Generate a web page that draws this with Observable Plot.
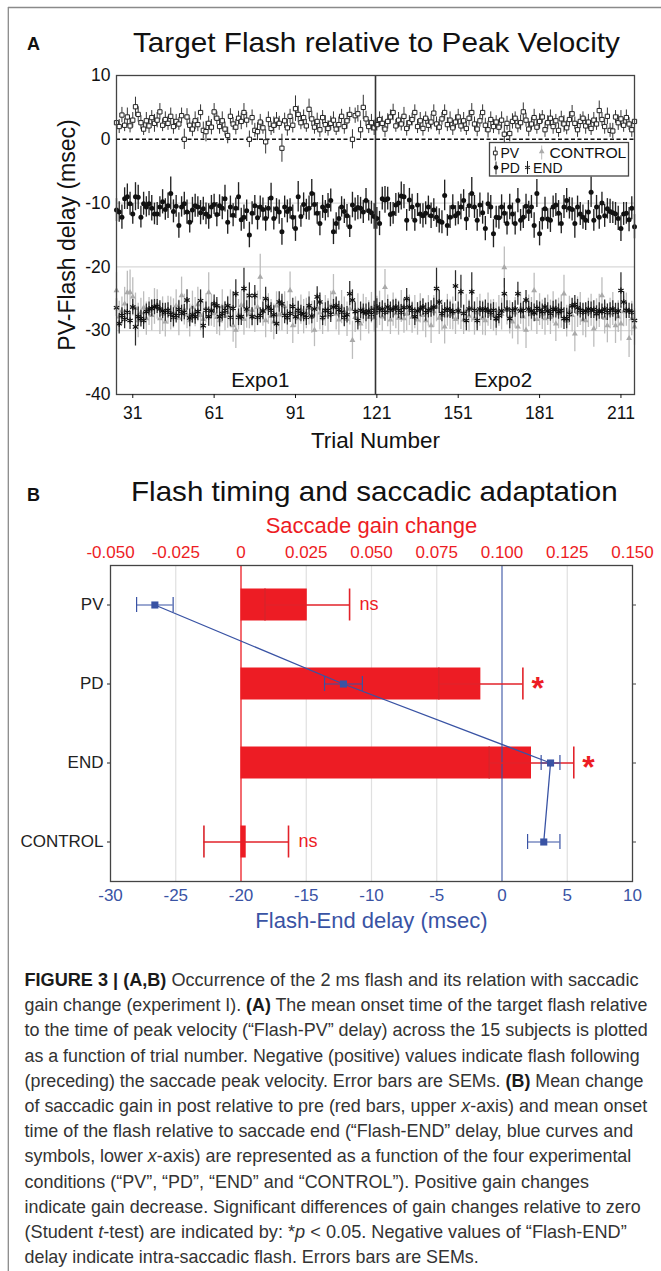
<!DOCTYPE html>
<html><head><meta charset="utf-8">
<script src="https://cdn.jsdelivr.net/npm/d3@7"></script>
<script src="https://cdn.jsdelivr.net/npm/@observablehq/plot@0.6"></script>
<style>
html,body{margin:0;padding:0;background:#fff;overflow:hidden;}
#page{position:relative;width:661px;height:1271px;background:#fff;font-family:"Liberation Sans",Arial,Helvetica,sans-serif;}
#plotA{position:absolute;left:0;top:60px;}
#plotB{position:absolute;left:0;top:505px;}
#overlay{position:absolute;left:0;top:0;pointer-events:none;}
</style></head>
<body><div id="page"><div id="plotA"></div><div id="plotB"></div><svg id="overlay" width="661" height="1271"></svg></div>
<script>
// ---------------- Panel A data (trials 25..216) ----------------
const firstTrial = 25;
const pvMean = [
2.6,2.0,3.8,2.2,3.5,2.1,3.0,5.1,3.9,2.6,
1.6,2.9,2.1,3.4,2.5,3.0,4.3,2.2,3.1,2.5,
3.6,2.0,2.8,2.4,3.7,0.0,3.5,2.2,1.6,2.9,
2.3,4.2,1.4,1.2,2.5,1.9,4.3,3.3,2.0,2.9,
1.6,0.6,3.6,2.4,1.9,3.3,2.8,4.2,3.0,0.0,
3.4,1.4,1.2,2.7,1.8,-0.4,3.1,1.7,2.2,3.0,
2.5,-1.4,2.9,1.8,3.6,2.2,4.8,3.9,2.6,3.4,
2.1,4.7,3.2,1.9,2.8,1.5,3.4,2.3,1.7,2.5,
3.0,1.6,2.3,3.6,2.0,2.9,3.9,0.0,3.7,4.0,
1.5,5.0,3.2,2.0,2.6,1.8,2.3,3.1,2.5,1.6,
2.8,3.5,4.2,2.1,3.0,2.4,3.6,1.7,2.6,3.1,
4.2,2.0,2.9,1.7,3.3,2.2,2.7,4.1,2.4,1.9,
3.2,4.2,2.3,3.0,1.8,2.7,3.5,2.1,2.9,1.7,
3.3,4.2,2.4,1.6,2.9,4.2,2.2,1.5,3.1,2.0,
2.7,1.9,3.0,0.8,2.5,0.9,2.8,3.3,2.1,2.6,
4.3,3.0,1.6,2.4,3.4,1.9,2.8,3.5,1.5,2.6,
3.3,2.0,2.9,1.4,3.2,2.4,1.8,3.1,4.0,2.5,
1.5,2.8,3.3,2.1,2.7,1.7,3.0,2.4,4.5,3.1,
2.0,3.6,1.4,1.3,3.5,2.6,3.2,2.2,3.4,2.4,
1.5,2.8];
const pvSem = [
1.3,1.1,1.2,1.0,1.4,1.1,1.2,1.5,1.2,1.1,
1.0,1.3,1.2,1.1,1.4,1.2,1.3,1.0,1.2,1.1,
1.3,1.2,1.1,1.0,1.2,1.6,1.3,1.1,1.2,1.4,
1.1,1.2,1.3,1.6,1.1,1.2,1.3,1.0,1.2,1.4,
1.1,1.3,1.2,1.0,1.2,1.1,1.3,1.4,1.2,1.3,
1.2,1.1,1.4,1.2,1.0,1.9,1.2,1.1,1.3,1.2,
1.1,2.2,1.2,1.3,1.1,1.2,2.0,1.3,1.1,1.2,
1.0,1.6,1.2,1.1,1.3,1.2,1.1,1.4,1.2,1.1,
1.3,1.0,1.2,1.1,1.2,1.3,1.1,1.5,1.2,1.3,
1.4,1.9,1.2,1.1,1.3,1.2,1.0,1.2,1.1,1.3,
1.2,1.1,1.3,1.0,1.2,1.1,1.4,1.2,1.1,1.0,
1.2,1.1,1.3,1.2,1.0,1.1,1.2,1.3,1.1,1.2,
1.0,1.2,1.1,1.3,1.2,1.1,1.2,1.0,1.3,1.1,
1.2,1.4,1.1,1.2,1.0,1.2,1.1,1.3,1.2,1.1,
1.0,1.2,1.3,1.4,1.1,1.3,1.2,1.0,1.1,1.2,
1.4,1.1,1.2,1.0,1.3,1.1,1.2,1.0,1.2,1.1,
1.3,1.2,1.0,1.1,1.2,1.3,1.1,1.2,1.3,1.0,
1.2,1.1,1.0,1.3,1.2,1.1,1.2,1.0,1.5,1.1,
1.2,1.3,1.1,1.2,1.0,1.2,1.3,1.1,1.2,1.0,
1.2,1.1];
const pdMean = [
-11.1,-11.4,-12.2,-9.3,-9.0,-10.1,-11.7,-9.0,-9.1,-12.2,
-10.1,-10.6,-10.1,-10.8,-11.7,-11.7,-10.6,-9.8,-11.0,-10.4,
-8.5,-11.3,-10.5,-13.5,-10.6,-10.1,-11.4,-13.0,-11.1,-10.4,
-10.6,-11.5,-10.9,-11.7,-12.1,-10.6,-10.2,-11.8,-10.4,-10.8,
-9.3,-13.0,-10.6,-11.9,-10.8,-9.0,-12.6,-12.2,-11.2,-15.0,
-11.6,-10.4,-12.3,-10.6,-11.0,-12.4,-10.8,-9.2,-12.4,-10.9,
-11.4,-14.5,-10.6,-11.3,-10.9,-12.2,-14.0,-9.0,-12.1,-10.2,
-11.0,-10.8,-8.5,-10.2,-11.6,-13.2,-10.6,-11.2,-10.4,-9.6,
-14.5,-13.2,-12.4,-10.6,-11.3,-12.0,-13.7,-10.3,-11.0,-10.7,
-10.8,-11.4,-9.6,-11.2,-11.5,-12.1,-12.4,-13.2,-9.3,-9.5,
-9.3,-11.8,-11.6,-10.3,-10.0,-8.9,-9.0,-12.7,-9.5,-10.6,
-12.7,-10.3,-11.7,-12.0,-11.6,-10.6,-12.0,-11.1,-12.2,-12.8,
-13.0,-8.8,-13.5,-12.2,-10.6,-12.0,-11.6,-10.6,-9.6,-12.5,
-10.4,-8.5,-10.6,-12.7,-10.3,-11.5,-14.0,-10.1,-10.6,-14.8,
-12.2,-12.3,-10.6,-11.6,-13.2,-10.6,-11.7,-13.2,-9.6,-12.7,
-12.2,-10.5,-11.3,-10.6,-13.5,-8.5,-14.8,-12.5,-10.9,-12.5,
-12.7,-10.6,-10.3,-11.6,-13.2,-10.6,-9.6,-10.8,-11.0,-13.2,
-10.6,-11.7,-12.2,-12.7,-11.4,-8.3,-12.7,-10.6,-12.2,-10.0,
-12.0,-10.9,-11.3,-11.5,-11.7,-12.4,-14.0,-11.7,-11.6,-12.6,
-10.8,-13.7];
const pdSem = [
1.8,1.6,1.9,1.7,2.0,1.8,1.6,2.2,1.9,1.7,
1.8,1.6,1.9,2.0,1.7,1.8,1.6,1.9,1.7,2.0,
2.6,1.8,1.7,2.0,1.6,1.8,1.9,1.7,2.0,1.8,
1.6,1.9,1.8,1.7,2.0,1.8,1.6,1.9,1.7,1.8,
2.1,1.9,1.7,1.8,1.6,2.2,1.8,1.9,1.7,2.0,
1.8,1.6,1.9,1.7,1.8,2.0,1.7,2.3,1.8,1.6,
1.9,2.1,1.7,1.8,1.6,1.9,2.0,2.4,1.7,1.8,
1.6,1.9,2.2,1.8,1.7,1.9,1.8,1.6,1.9,1.8,
2.0,1.7,1.8,1.6,1.9,1.8,1.7,2.0,1.8,1.9,
1.7,1.8,1.9,1.6,1.8,2.0,1.7,1.9,1.8,2.1,
1.8,1.9,1.7,1.8,1.6,2.2,1.9,1.7,1.8,2.0,
1.7,1.8,1.6,1.9,1.8,1.7,2.0,1.8,1.6,1.9,
1.8,2.4,1.7,1.8,1.9,1.6,1.8,2.0,1.7,1.8,
1.9,2.5,1.8,1.7,1.9,1.8,1.9,1.7,1.8,2.2,
1.7,1.8,1.9,1.6,1.8,2.0,1.7,1.8,1.9,1.7,
1.8,1.9,1.6,1.8,2.0,2.2,1.9,1.7,1.8,1.6,
1.9,1.7,1.8,2.0,1.6,1.8,1.9,1.7,1.8,2.3,
1.7,1.8,1.9,1.6,1.8,2.4,1.7,1.8,1.9,1.7,
1.8,1.6,1.9,1.7,1.8,1.9,2.0,1.8,1.7,1.9,
1.8,1.9];
const endMean = [
-26.4,-28.9,-27.6,-28.2,-27.1,-28.4,-26.3,-29.4,-27.8,-28.1,
-28.4,-27.0,-26.6,-26.5,-26.3,-26.2,-26.6,-26.9,-27.1,-26.8,
-27.4,-27.9,-27.6,-26.7,-27.3,-27.1,-25.2,-28.0,-27.5,-27.8,
-27.0,-25.3,-29.2,-26.8,-27.8,-26.9,-25.8,-26.1,-27.8,-27.3,
-26.8,-26.1,-27.9,-26.5,-24.2,-27.9,-27.8,-23.4,-26.6,-24.5,
-27.8,-24.5,-27.9,-27.6,-26.9,-25.0,-26.3,-26.8,-27.5,-28.9,
-25.5,-25.8,-27.6,-27.9,-27.3,-26.2,-27.8,-26.8,-27.3,-27.4,
-27.9,-26.1,-27.7,-26.6,-24.7,-25.5,-27.9,-26.8,-26.8,-27.4,
-26.3,-26.1,-26.7,-27.1,-27.9,-27.5,-24.2,-25.2,-27.0,-28.4,
-26.8,-27.0,-27.2,-26.9,-27.4,-26.8,-26.3,-26.8,-26.6,-27.1,
-26.3,-26.8,-26.6,-26.3,-26.8,-27.1,-26.4,-25.0,-26.3,-26.8,
-27.8,-26.9,-26.6,-26.3,-27.1,-26.8,-26.6,-26.3,-23.4,-25.5,
-27.3,-26.8,-26.6,-26.8,-27.0,-23.0,-26.9,-23.9,-27.3,-28.4,
-26.6,-23.9,-26.8,-28.4,-26.6,-26.8,-26.6,-26.9,-27.1,-26.8,
-28.1,-27.6,-26.9,-24.2,-26.6,-28.1,-26.8,-26.6,-24.2,-26.9,
-26.8,-25.2,-26.6,-26.9,-27.2,-26.5,-26.8,-27.0,-26.3,-26.9,
-27.3,-26.7,-26.6,-27.0,-26.8,-28.1,-28.1,-27.4,-26.1,-25.9,
-26.4,-26.8,-27.1,-26.9,-26.6,-26.8,-26.7,-27.3,-26.9,-27.0,
-26.6,-27.1,-26.8,-26.6,-27.1,-26.9,-23.7,-25.5,-26.8,-26.9,
-27.1,-28.4];
const endSem = [
1.4,1.6,1.2,1.5,1.3,1.4,1.2,3.0,1.5,1.3,
1.4,1.2,1.1,1.3,1.2,1.1,1.3,1.2,1.4,1.2,
1.3,1.5,1.2,1.4,1.3,1.2,1.6,1.4,1.3,1.2,
1.4,1.7,2.0,1.3,1.5,1.2,1.4,1.3,1.6,1.2,
1.3,1.4,1.5,2.6,2.2,1.3,1.4,3.2,1.3,2.0,
1.4,1.6,1.3,1.2,1.4,1.8,1.3,1.2,1.4,1.7,
1.6,1.5,1.3,1.2,1.4,1.3,1.2,1.4,1.3,1.2,
1.3,1.4,1.2,1.3,1.6,1.4,1.3,1.2,1.4,1.3,
1.2,1.4,1.3,1.2,1.5,1.3,1.9,1.6,1.4,1.5,
1.3,1.2,1.4,1.3,1.2,1.4,1.3,1.2,1.3,1.4,
1.2,1.3,1.4,1.2,1.3,1.2,1.4,1.6,1.3,1.2,
1.4,1.3,1.2,1.3,1.4,1.2,1.3,1.4,3.2,1.8,
1.3,1.2,1.4,1.3,1.2,2.4,1.4,2.6,1.3,1.6,
1.2,3.0,1.3,1.6,1.2,1.3,1.4,1.2,1.3,1.2,
1.5,1.3,1.2,2.4,1.3,1.6,1.2,1.3,1.8,1.2,
1.3,1.5,1.2,1.3,1.4,1.2,1.3,1.2,1.4,1.3,
1.2,1.3,1.4,1.2,1.3,1.7,1.6,1.3,1.2,1.4,
1.3,1.2,1.4,1.3,1.2,1.3,1.4,1.2,1.3,1.2,
1.4,1.3,1.2,1.3,1.4,1.2,2.8,1.6,1.3,1.2,
1.3,1.5];
const ctlMean = [
-23.7,-27.8,-26.9,-25.8,-24.0,-24.0,-24.7,-26.5,-28.4,-27.2,
-26.4,-28.1,-27.0,-27.6,-26.2,-25.9,-28.1,-27.4,-28.6,-26.8,
-27.3,-27.3,-26.1,-28.0,-24.5,-26.7,-27.5,-28.4,-26.3,-27.1,
-25.9,-27.6,-28.2,-26.5,-24.0,-26.8,-27.3,-27.9,-28.4,-26.2,
-27.7,-27.1,-26.4,-29.2,-29.9,-27.5,-26.0,-28.2,-26.9,-27.4,
-26.8,-27.9,-26.3,-21.6,-27.0,-28.4,-26.6,-27.7,-28.6,-26.1,
-27.5,-27.3,-26.2,-28.0,-23.7,-29.2,-27.1,-28.1,-26.7,-27.8,
-27.3,-26.5,-27.9,-29.9,-26.4,-27.2,-28.1,-26.9,-27.6,-26.1,
-24.0,-27.4,-28.3,-26.3,-27.0,-28.2,-26.6,-31.5,-27.9,-26.8,
-28.9,-26.6,-27.3,-27.9,-26.4,-28.0,-27.1,-26.5,-27.8,-23.2,
-26.9,-28.3,-26.7,-27.3,-28.0,-26.2,-28.1,-27.4,-26.8,-27.9,
-27.1,-28.3,-26.5,-27.6,-28.4,-26.9,-29.2,-27.0,-26.3,-28.0,
-27.6,-29.4,-26.8,-27.5,-27.3,-28.2,-26.6,-27.1,-28.3,-26.9,
-27.7,-26.4,-28.1,-27.2,-26.8,-28.0,-28.4,-26.7,-27.5,-27.6,
-28.2,-26.9,-27.4,-20.1,-26.8,-27.9,-28.6,-27.2,-29.4,-26.5,
-27.8,-29.9,-26.9,-27.4,-23.7,-28.2,-26.7,-27.5,-28.1,-26.8,
-27.9,-26.4,-28.9,-27.3,-27.0,-24.2,-28.5,-26.9,-27.6,-30.5,
-27.1,-26.6,-28.3,-28.4,-27.2,-26.8,-29.7,-27.4,-26.9,-24.5,
-28.0,-29.2,-27.3,-26.6,-29.2,-27.8,-28.9,-27.0,-26.7,-31.2,
-28.1,-29.4];
const ctlSem = [
2.8,2.4,2.2,2.6,3.3,3.5,3.0,2.4,2.7,2.3,
2.5,2.6,2.2,2.4,2.8,2.3,2.5,2.7,2.4,2.2,
2.6,2.3,2.5,2.8,2.9,2.4,2.2,2.6,2.5,2.3,
2.7,2.4,2.6,2.3,3.1,2.5,2.2,2.7,2.4,2.6,
2.3,2.5,2.8,2.6,2.9,2.4,2.2,2.5,2.7,2.3,
2.6,2.4,2.5,3.6,2.3,2.7,2.4,2.6,2.8,2.2,
2.5,2.7,2.3,2.6,2.9,2.8,2.4,2.5,2.3,2.7,
2.4,2.6,2.5,2.6,2.3,2.7,2.5,2.4,2.6,2.3,
2.8,2.5,2.4,2.6,2.3,2.7,2.5,3.0,2.4,2.6,
2.7,2.3,2.5,2.6,2.4,2.2,2.5,2.7,2.3,2.8,
2.5,2.3,2.6,2.4,2.7,2.5,2.3,2.6,2.4,2.5,
2.6,2.4,2.3,2.5,2.7,2.4,2.8,2.5,2.3,2.6,
2.4,2.7,2.5,2.3,2.6,2.4,2.5,2.7,2.3,2.6,
2.5,2.3,2.6,2.4,2.5,2.7,2.4,2.6,2.3,2.5,
2.6,2.4,2.5,3.2,2.3,2.6,2.7,2.4,2.8,2.5,
2.3,2.9,2.5,2.6,2.7,2.4,2.5,2.3,2.6,2.4,
2.7,2.5,2.8,2.4,2.6,2.9,2.5,2.3,2.6,2.8,
2.4,2.6,2.5,2.7,2.3,2.5,2.9,2.4,2.6,2.8,
2.5,2.7,2.4,2.6,2.8,2.5,2.7,2.4,2.6,3.0,
2.7,2.9];
const xTicksA = [31, 61, 91, 121, 151, 181, 211];
const yTicksA = [-40, -30, -20, -10, 0, 10];
const gridA = [-10, -20, -30];
const expoNames = ["Expo1", "Expo2"];
const expoCenters = [78, 167.5];
const expoBoundary = 120.5;

// ---------------- Panel B data ----------------
const conds = ["PV", "PD", "END", "CONTROL"];
const gainMean = [0.0254, 0.0919, 0.1113, 0.002];
const gainSem = [0.0162, 0.0161, 0.0162, 0.0162];
const delayMean = [-26.6, -12.15, 3.72, 3.2];
const delaySem = [1.4, 1.45, 0.72, 1.24];
const signif = ["ns", "*", "*", "ns"];
const delayTicks = [-30, -25, -20, -15, -10, -5, 0, 5, 10];
const gainTicks = [-0.05, -0.025, 0, 0.025, 0.05, 0.075, 0.1, 0.125, 0.15];
const gridB = [-25, -15, -10, -5, 5];

// ---------------- helpers ----------------
const FONT = '"Liberation Sans", Arial, Helvetica, sans-serif';
const RED = "#ed1c24", BLUE = "#3953a4";
const trials = d3.range(firstTrial, firstTrial + pvMean.length);
const rows = (m, s) => trials.map((t, i) => ({t, m: m[i], lo: m[i] - s[i], hi: m[i] + s[i]}));
const rV = rows(pvMean, pvSem), rD = rows(pdMean, pdSem), rE = rows(endMean, endSem), rC = rows(ctlMean, ctlSem);
const g2d = g => g * 200 - 20; // gain axis (top) aligned with delay axis (bottom)
const fmtGain = d => { const g = (d + 20) / 200; return Math.abs(g) < 1e-9 ? "0" : g.toFixed(3); };

// ---------------- Plot A ----------------
const plotA = Plot.plot({
  width: 661, height: 400,
  marginTop: 15, marginBottom: 66, marginLeft: 116, marginRight: 27,
  style: {fontFamily: FONT, fontSize: "17.5px", color: "#111", background: "transparent"},
  x: {domain: [25, 216]},
  y: {domain: [-40, 10]},
  marks: [
    Plot.ruleY(gridA, {stroke: "#d8d8d8", strokeWidth: 1.2}),
    Plot.ruleY([0], {stroke: "#111", strokeWidth: 1.4, strokeDasharray: "4,2.5"}),
    Plot.ruleX(rC, {x: "t", y1: "lo", y2: "hi", stroke: "#bdbdbd", strokeWidth: 1.3}),
    Plot.dot(rC, {x: "t", y: "m", symbol: "triangle", r: 2.2, fill: "#a9a9a9"}),
    Plot.ruleX(rE, {x: "t", y1: "lo", y2: "hi", stroke: "#2a2a2a", strokeWidth: 1.25}),
    Plot.dot(rE, {x: "t", y: "m", symbol: "asterisk", r: 2.9, stroke: "#111", strokeWidth: 1.2}),
    Plot.ruleX(rD, {x: "t", y1: "lo", y2: "hi", stroke: "#222", strokeWidth: 1.35}),
    Plot.dot(rD, {x: "t", y: "m", r: 2.5, fill: "#111"}),
    Plot.ruleX(rV, {x: "t", y1: "lo", y2: "hi", stroke: "#333", strokeWidth: 1}),
    Plot.dot(rV, {x: "t", y: "m", symbol: "square", r: 2.4, fill: "white", stroke: "#222", strokeWidth: 1}),
    Plot.ruleX([expoBoundary], {stroke: "#333", strokeWidth: 1.6}),
    Plot.frame({stroke: "#444", strokeWidth: 1.3}),
    Plot.axisX({ticks: xTicksA, tickSize: 4, tickPadding: 8, tickFormat: d => String(d), label: null, fontSize: 17.5, color: "#111"}),
    Plot.axisY({ticks: yTicksA, tickSize: 0, tickPadding: 6, tickFormat: d => String(d), label: null, fontSize: 17.5, color: "#111"}),
    Plot.text(expoNames, {x: (d, i) => expoCenters[i], text: d => d, frameAnchor: "bottom", textAnchor: "middle", lineAnchor: "middle", dy: -14, fontSize: 20.5, fill: "#111"}),
    Plot.text(["Trial Number"], {text: d => d, frameAnchor: "bottom", textAnchor: "middle", lineAnchor: "middle", dy: 46, fontSize: 22.5, fill: "#111"}),
    Plot.text(["PV-Flash delay (msec)"], {text: d => d, frameAnchor: "left", textAnchor: "middle", lineAnchor: "middle", rotate: -90, dx: -49, fontSize: 23, fill: "#111"})
  ]
});
document.getElementById("plotA").appendChild(plotA);

// ---------------- Plot B ----------------
const rowsB = conds.map((c, i) => ({c, g: gainMean[i], gs: gainSem[i], d: delayMean[i], ds: delaySem[i], s: signif[i]}));
const plotB = Plot.plot({
  width: 661, height: 440,
  marginTop: 60, marginBottom: 64, marginLeft: 110, marginRight: 29,
  style: {fontFamily: FONT, fontSize: "17px", color: "#111", background: "transparent"},
  x: {domain: [-30, 10]},
  y: {type: "band", domain: conds, padding: 0},
  marks: [
    Plot.ruleX(gridB, {stroke: "#e0e0e0", strokeWidth: 1.2}),
    Plot.barX(rowsB, {x1: () => g2d(0), x2: d => g2d(d.g), y: "c", fill: RED, insetTop: 23.5, insetBottom: 23.5}),
    Plot.ruleX([g2d(0)], {stroke: RED, strokeWidth: 1.3}),
    Plot.ruleX([0], {stroke: BLUE, strokeWidth: 1.1}),
    Plot.ruleY(rowsB, {x1: d => g2d(d.g - d.gs), x2: d => g2d(d.g + d.gs), y: "c", stroke: "#e2222a", strokeWidth: 1.6}),
    Plot.tickX(rowsB, {x: d => g2d(d.g - d.gs), y: "c", stroke: "#d9232a", strokeWidth: 1.6, insetTop: 23.5, insetBottom: 23.5}),
    Plot.tickX(rowsB, {x: d => g2d(d.g + d.gs), y: "c", stroke: "#e2222a", strokeWidth: 1.6, insetTop: 23.5, insetBottom: 23.5}),
    Plot.text(rowsB.filter(d => d.s === "ns"), {x: d => g2d(d.g + d.gs), y: "c", text: "s", dx: 10, dy: -1, textAnchor: "start", lineAnchor: "middle", fill: RED, fontSize: 18}),
    Plot.text(rowsB.filter(d => d.s !== "ns"), {x: d => g2d(d.g + d.gs), y: "c", text: "s", dx: 8.5, dy: 4.5, textAnchor: "start", lineAnchor: "middle", fill: RED, fontSize: 32, fontWeight: "bold"}),
    Plot.line(rowsB, {x: "d", y: "c", stroke: BLUE, strokeWidth: 1.3}),
    Plot.ruleY(rowsB, {x1: d => d.d - d.ds, x2: d => d.d + d.ds, y: "c", stroke: BLUE, strokeWidth: 1.2}),
    Plot.tickX(rowsB, {x: d => d.d - d.ds, y: "c", stroke: BLUE, strokeWidth: 1.2, insetTop: 32, insetBottom: 32}),
    Plot.tickX(rowsB, {x: d => d.d + d.ds, y: "c", stroke: BLUE, strokeWidth: 1.2, insetTop: 32, insetBottom: 32}),
    Plot.dot(rowsB, {x: "d", y: "c", symbol: "square", r: 4, fill: BLUE}),
    Plot.frame({stroke: "#444", strokeWidth: 1.3}),
    Plot.axisX({anchor: "bottom", ticks: delayTicks, tickSize: 0, tickPadding: 7, tickFormat: d => String(d), label: null, fontSize: 17, color: BLUE}),
    Plot.axisX({anchor: "top", ticks: gainTicks.map(g2d), tickSize: 0, tickPadding: 8, tickFormat: fmtGain, label: null, fontSize: 17, color: RED}),
    Plot.axisY({anchor: "left", tickSize: 3, tickPadding: 4, label: null, fontSize: 17, color: "#222"}),
    Plot.axisY({anchor: "right", tickSize: 3, tickFormat: () => "", label: null, color: "#444"}),
    Plot.text(["Saccade gain change"], {text: d => d, frameAnchor: "top", textAnchor: "middle", lineAnchor: "middle", dy: -40, fontSize: 22, fill: RED}),
    Plot.text(["Flash-End delay (msec)"], {text: d => d, frameAnchor: "bottom", textAnchor: "middle", lineAnchor: "middle", dy: 39, fontSize: 22, fill: BLUE})
  ]
});
document.getElementById("plotB").appendChild(plotB);

// ---------------- Overlay: border, titles, legend, caption ----------------
const ov = d3.select("#overlay").style("font-family", FONT);
ov.append("line").attr("x1", 8).attr("y1", 7.5).attr("x2", 661).attr("y2", 7.5).attr("stroke", "#8a8a8a").attr("stroke-width", 1.3);
ov.append("line").attr("x1", 8.3).attr("y1", 7).attr("x2", 8.3).attr("y2", 1271).attr("stroke", "#8a8a8a").attr("stroke-width", 1.3);

function fit(sel, x, y, width) {
  const w = sel.node().getComputedTextLength();
  sel.attr("transform", `translate(${x},${y}) scale(${width / w},1)`);
}
ov.append("text").attr("x", 27).attr("y", 50).attr("font-size", 18).attr("font-weight", "bold").attr("fill", "#111").text("A");
fit(ov.append("text").attr("font-size", 27).attr("fill", "#111").text("Target Flash relative to Peak Velocity"), 133, 52, 487);
ov.append("text").attr("x", 27).attr("y", 501).attr("font-size", 18).attr("font-weight", "bold").attr("fill", "#111").text("B");
fit(ov.append("text").attr("font-size", 27).attr("fill", "#111").text("Flash timing and saccadic adaptation"), 131, 501, 487);

// Legend (panel A)
const lg = ov.append("g");
lg.append("rect").attr("x", 489.5).attr("y", 142.5).attr("width", 139).attr("height", 33.5).attr("fill", "white").attr("stroke", "#444").attr("stroke-width", 1.3);
const lt = (x, y, s) => lg.append("text").attr("x", x).attr("y", y).attr("font-size", 14).attr("fill", "#111").text(s);
lt(500.5, 158, "PV"); lt(500.5, 172.5, "PD"); lt(533, 172.5, "END");
fit(lg.append("text").attr("font-size", 14).attr("fill", "#111").text("CONTROL"), 549.5, 158, 77);
const vl = (x, y1, y2, c) => lg.append("line").attr("x1", x).attr("x2", x).attr("y1", y1).attr("y2", y2).attr("stroke", c).attr("stroke-width", 1);
vl(495.3, 146.5, 160.5, "#333"); vl(496, 161.5, 174.5, "#222"); vl(541.7, 145.5, 159.5, "#bbb"); vl(527.5, 161, 174, "#222");
lg.append("path").attr("d", d3.symbol(d3.symbolSquare, 14)()).attr("transform", "translate(495.3,153)").attr("fill", "white").attr("stroke", "#222");
lg.append("circle").attr("cx", 496).attr("cy", 167.5).attr("r", 2.3).attr("fill", "#111");
lg.append("path").attr("d", d3.symbol(d3.symbolTriangle, 14)()).attr("transform", "translate(541.7,151.5)").attr("fill", "#aaa");
lg.append("path").attr("d", d3.symbol(d3.symbolAsterisk, 21)()).attr("transform", "translate(527.5,167.5)").attr("fill", "none").attr("stroke", "#111").attr("stroke-width", 1.1);

// Caption
const captionLines = [
  [["b", "FIGURE 3 | (A,B)"], ["", " Occurrence of the 2 ms flash and its relation with saccadic"]],
  [["", "gain change (experiment I). "], ["b", "(A)"], ["", " The mean onset time of the target flash relative"]],
  [["", "to the time of peak velocity (“Flash-PV” delay) across the 15 subjects is plotted"]],
  [["", "as a function of trial number. Negative (positive) values indicate flash following"]],
  [["", "(preceding) the saccade peak velocity. Error bars are SEMs. "], ["b", "(B)"], ["", " Mean change"]],
  [["", "of saccadic gain in post relative to pre (red bars, upper "], ["i", "x"], ["", "-axis) and mean onset"]],
  [["", "time of the flash relative to saccade end (“Flash-END” delay, blue curves and"]],
  [["", "symbols, lower "], ["i", "x"], ["", "-axis) are represented as a function of the four experimental"]],
  [["", "conditions (“PV”, “PD”, “END” and “CONTROL”). Positive gain changes"]],
  [["", "indicate gain decrease. Significant differences of gain changes relative to zero"]],
  [["", "(Student "], ["i", "t"], ["", "-test) are indicated by: *"], ["i", "p"], ["", " < 0.05. Negative values of “Flash-END”"]],
  [["", "delay indicate intra-saccadic flash. Errors bars are SEMs."]]
];
const captionEnds = [639, 648, 648, 640, 644, 648, 634, 632, 589, 641, 627, 479];
captionLines.forEach((segs, k) => {
  const t = ov.append("text").attr("font-size", 18).attr("fill", "#333").attr("xml:space", "preserve").style("white-space", "pre");
  segs.forEach(([st, s]) => {
    const ts = t.append("tspan").text(s);
    if (st === "b") ts.attr("font-weight", "bold").attr("fill", "#1a1a1a");
    if (st === "i") ts.attr("font-style", "italic");
  });
  fit(t, 24.5, 986 + k * 25.2, captionEnds[k] - 24.5);
});
</script></body></html>
